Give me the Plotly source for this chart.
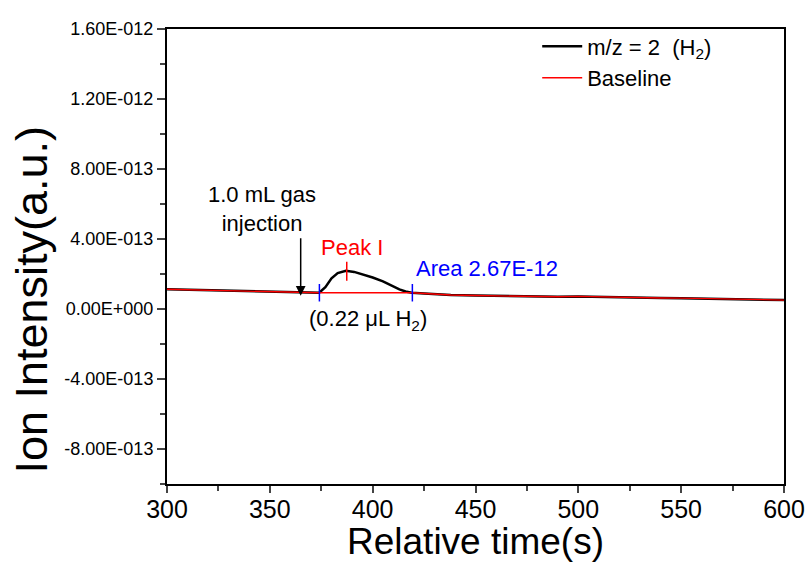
import plotly.graph_objects as go

# ---- data (ion intensity in units of 1e-13) ----
time_s = [300, 310, 320, 330, 340, 350, 360, 365, 370, 374, 377, 380, 383, 387,
          391, 395, 400, 405, 410, 413, 416, 419, 425, 430, 438, 450, 460, 470,
          480, 490, 500, 510, 520, 530, 540, 550, 560, 570, 580, 590, 600]
signal_e13 = [1.13, 1.10, 1.09, 1.05, 1.03, 0.99, 0.96, 0.93, 0.92, 0.93, 1.25, 1.75,
              2.05, 2.19, 2.12, 1.98, 1.80, 1.58, 1.30, 1.12, 1.00, 0.93, 0.88, 0.84,
              0.80, 0.77, 0.75, 0.74, 0.73, 0.70, 0.72, 0.69, 0.67, 0.66, 0.63, 0.62,
              0.60, 0.58, 0.56, 0.53, 0.51]

base_time = [300, 310, 320, 330, 340, 350, 360, 365, 370, 374, 419, 425, 430, 438,
             450, 460, 470, 480, 490, 500, 510, 520, 530, 540, 550, 560, 570, 580,
             590, 600]
base_e13 = [1.13, 1.10, 1.09, 1.05, 1.03, 0.99, 0.96, 0.93, 0.92, 0.93, 0.93, 0.88,
            0.84, 0.80, 0.77, 0.75, 0.74, 0.73, 0.70, 0.72, 0.69, 0.67, 0.66, 0.63,
            0.62, 0.60, 0.58, 0.56, 0.53, 0.51]

area_marks_t = [374.1, 419.3]
area_mark_center_e13 = 0.93
peak_mark_t = 387.4
peak_mark_e13 = [1.62, 2.70]

y_tickvals = [-8e-13, -4e-13, 0, 4e-13, 8e-13, 1.2e-12, 1.6e-12]
y_ticktext = ["-8.00E-013", "-4.00E-013", "0.00E+000", "4.00E-013",
              "8.00E-013", "1.20E-012", "1.60E-012"]
x_tickvals = [300, 350, 400, 450, 500, 550, 600]

E = 1e-13
sig = [v * E for v in signal_e13]
base = [v * E for v in base_e13]

FONT = "Liberation Sans, Arial, sans-serif"

fig = go.Figure()
fig.add_trace(go.Scatter(x=time_s, y=sig, mode="lines", name="m/z = 2\u00a0\u00a0(H<sub>2</sub>)",
                         line=dict(color="black", width=2.5)))
fig.add_trace(go.Scatter(x=base_time, y=base, mode="lines", name="Baseline",
                         line=dict(color="#ff0000", width=1.3)))
for t in area_marks_t:
    fig.add_trace(go.Scatter(x=[t, t], y=[(area_mark_center_e13 - 0.5) * E, (area_mark_center_e13 + 0.5) * E],
                             mode="lines", line=dict(color="#0000ff", width=1.5),
                             showlegend=False, hoverinfo="skip"))
fig.add_trace(go.Scatter(x=[peak_mark_t, peak_mark_t], y=[v * E for v in peak_mark_e13],
                         mode="lines", line=dict(color="#ff0000", width=1.5),
                         showlegend=False, hoverinfo="skip"))

ann_font = dict(family=FONT, size=22)
fig.add_annotation(x=365, y=0.76 * E, ax=0, ay=-59, showarrow=True, arrowhead=2,
                   arrowsize=1.3, arrowwidth=1.5, arrowcolor="black", text="")
fig.add_annotation(x=346.2, y=4.05 * E, yanchor="bottom", xanchor="center", showarrow=False,
                   text="1.0 mL gas<br>injection", align="center", font=dict(color="black", **ann_font))
fig.add_annotation(x=390, y=3.54 * E, showarrow=False, text="Peak I",
                   font=dict(color="#ff0000", **ann_font))
fig.add_annotation(x=420.0, y=2.29 * E, xanchor="left", showarrow=False, text="Area 2.67E-12",
                   font=dict(color="#0000ff", **ann_font))
fig.add_annotation(x=397.7, y=-0.63 * E, showarrow=False, text="(0.22 \u03bcL H<sub>2</sub>)",
                   font=dict(color="black", **ann_font))
# y-axis title (placed lower than axis centre, as in the reference)
fig.add_annotation(xref="paper", yref="paper", x=-0.219, y=0.405, textangle=-90,
                   xanchor="center", yanchor="middle",
                   showarrow=False, text="Ion Intensity(a.u.)",
                   font=dict(family=FONT, size=45, color="black"))

fig.update_layout(
    width=809, height=562,
    margin=dict(l=167, r=25, t=29, b=78),
    paper_bgcolor="white", plot_bgcolor="white",
    font=dict(family=FONT, color="black"),
    showlegend=True,
    legend=dict(x=0.600, y=1.008, xanchor="left", yanchor="top",
                font=dict(family=FONT, size=22), bgcolor="rgba(0,0,0,0)",
                itemwidth=40, tracegroupgap=0),
    xaxis=dict(range=[300, 600], tickvals=x_tickvals, ticks="outside", ticklen=7, tickwidth=1.5,
               showline=True, linecolor="black", linewidth=2, mirror=True, showgrid=False,
               zeroline=False, tickfont=dict(family=FONT, size=25), automargin=False,
               ticklabelstandoff=-5,
               minor=dict(dtick=25, ticks="outside", ticklen=5, tickwidth=1.5, tick0=300),
               title=dict(text="Relative time(s)", font=dict(family=FONT, size=37), standoff=2)),
    yaxis=dict(range=[-1.0e-12, 1.6e-12], tickvals=y_tickvals, ticktext=y_ticktext,
               ticks="outside", ticklen=8, tickwidth=1.5, automargin=False,
               showline=True, linecolor="black", linewidth=2, mirror=True, showgrid=False,
               zeroline=False, tickfont=dict(family=FONT, size=18),
               minor=dict(dtick=2e-13, tick0=0, ticks="outside", ticklen=5, tickwidth=1.5)),
)

fig.write_html("out.html")
